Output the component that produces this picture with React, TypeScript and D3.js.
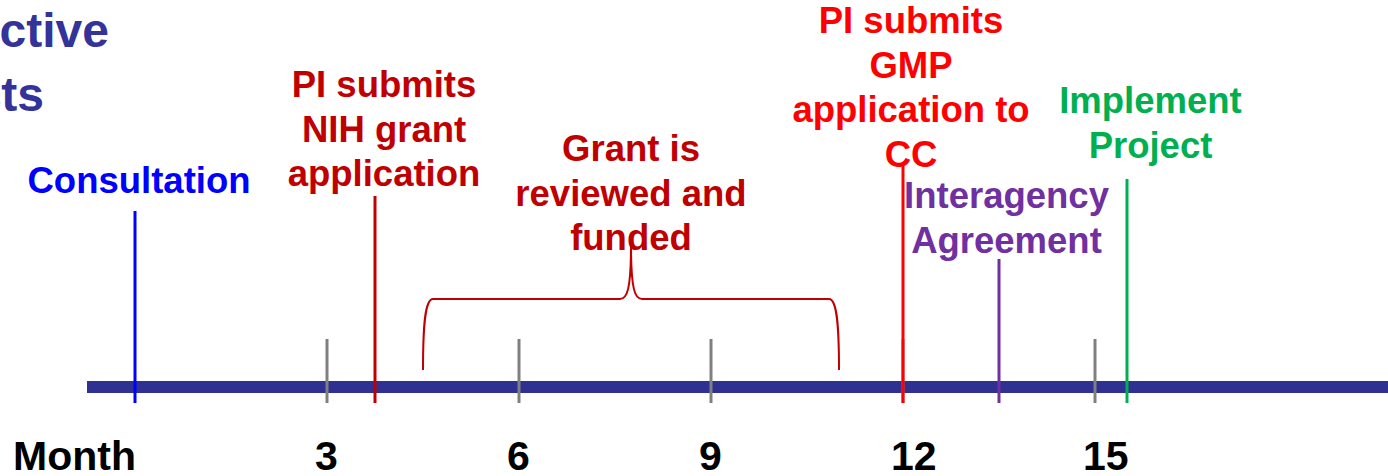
import React from 'react';
import * as d3 from 'd3';

// timeline data (months)
const monthTicks = [3, 6, 9, 12, 15];
const axisTitle = 'Month';
const titleLines = ['Prospective', 'Projects'];

const milestoneMonths = [0, 3.75, 12, 13.5, 15.5];
const milestoneLabels = [
  ['Consultation'],
  ['PI submits', 'NIH grant', 'application'],
  ['PI submits', 'GMP', 'application to', 'CC'],
  ['Interagency', 'Agreement'],
  ['Implement', 'Project'],
];

const grantPeriod = [4.5, 11];
const grantLabel = ['Grant is', 'reviewed and', 'funded'];

// look
const milestoneColors = ['#0000FF', '#C00000', '#FF0000', '#7030A0', '#00B050'];
// label centre offset from line, first baseline, top of line
const milestoneLayout = [
  { dx: 4, y: 193, top: 211 },
  { dx: 9, y: 97, top: 196 },
  { dx: 8, y: 33, top: 166 },
  { dx: 7.5, y: 208, top: 259 },
  { dx: 23.5, y: 113, top: 179 },
];

const W = 1388;
const H = 476;
const FONT = '"Liberation Sans", Arial, sans-serif';
const LINE_H = 44.5;

const App = () => {
  const x = d3.scaleLinear().domain([0, 15]).range([135, 1095]);

  const barY = 381;
  const barH = 12;
  const markBottom = 403;

  // brace over the grant review period
  const bx0 = x(grantPeriod[0]);
  const bx1 = x(grantPeriod[1]);
  const bmid = x((grantPeriod[0] + grantPeriod[1]) / 2);
  const yEnd = 370;
  const yFlat = 299;
  const yTip = 245;
  const brace = d3.path();
  brace.moveTo(bx0, yEnd);
  brace.bezierCurveTo(bx0, 325, bx0 + 2, yFlat, bx0 + 10, yFlat);
  brace.lineTo(bmid - 11, yFlat);
  brace.bezierCurveTo(bmid - 4, yFlat, bmid, 290, bmid, yTip);
  brace.bezierCurveTo(bmid, 290, bmid + 4, yFlat, bmid + 11, yFlat);
  brace.lineTo(bx1 - 10, yFlat);
  brace.bezierCurveTo(bx1 - 2, yFlat, bx1, 325, bx1, yEnd);

  return (
    <svg
      width={W}
      height={H}
      style={{ position: 'absolute', left: 0, top: 0, background: '#fff' }}
      fontFamily={FONT}
      fontWeight="bold"
    >
      {/* cut-off title */}
      {titleLines.map((t, i) => (
        <text key={t} x={i === 0 ? 109 : 44} y={47 + i * 64} textAnchor="end" fontSize={48} fill="#333399">
          {t}
        </text>
      ))}

      {/* main bar */}
      <rect x={x(-0.75)} y={barY} width={W - x(-0.75)} height={barH} fill="#2E3192" />

      {/* month ticks */}
      {monthTicks.map(m => (
        <line key={m} x1={x(m)} x2={x(m)} y1={339} y2={markBottom} stroke="#808080" strokeWidth={3} />
      ))}

      {/* brace + label */}
      <path d={brace.toString()} fill="none" stroke="#C00000" strokeWidth={2} />
      {grantLabel.map((t, i) => (
        <text key={t} x={bmid} y={161 + i * LINE_H} textAnchor="middle" fontSize={36.5} fill="#C00000">
          {t}
        </text>
      ))}

      {/* milestones */}
      {milestoneMonths.map((m, i) => {
        const lay = milestoneLayout[i];
        const c = milestoneColors[i];
        return (
          <g key={i}>
            <line x1={x(m)} x2={x(m)} y1={lay.top} y2={markBottom} stroke={c} strokeWidth={3} />
            {milestoneLabels[i].map((t, j) => (
              <text
                key={j}
                x={x(m) + lay.dx}
                y={lay.y + j * LINE_H}
                textAnchor="middle"
                fontSize={36.5}
                fill={c}
              >
                {t}
              </text>
            ))}
          </g>
        );
      })}

      {/* month labels */}
      <text x={13} y={470} fontSize={41} fill="#000">
        {axisTitle}
      </text>
      {monthTicks.map(m => (
        <text key={m} x={x(m) - 12} y={470} fontSize={41} fill="#000">
          {m}
        </text>
      ))}
    </svg>
  );
};

export default App;
